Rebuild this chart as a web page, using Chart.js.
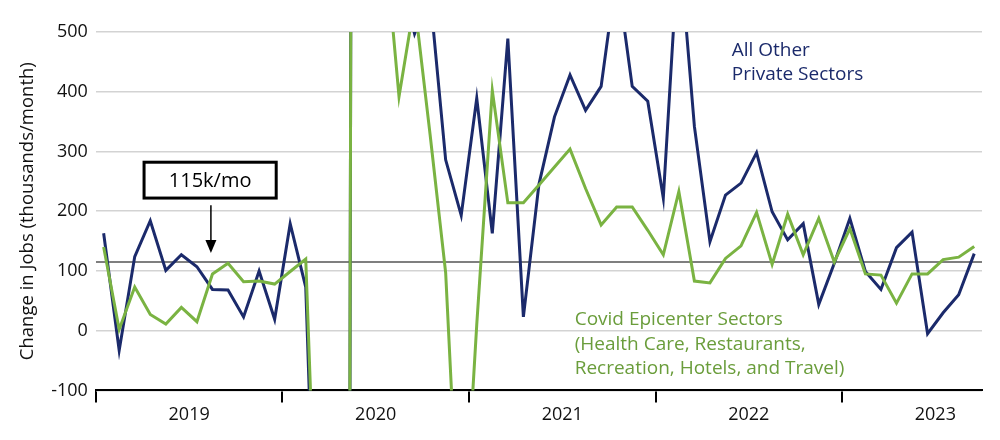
<!DOCTYPE html>
<html>
<head>
<meta charset="utf-8">
<script src="https://cdn.jsdelivr.net/npm/chart.js@4/dist/chart.umd.min.js"></script>
<style>
  html, body { margin: 0; padding: 0; background: #fff; }
  #wrap { width: 1000px; height: 440px; position: relative; }
</style>
</head>
<body>
<div id="wrap"><canvas id="jobsChart"></canvas></div>
<script>
/* Monthly job change, Jan 2019 - Sep 2023 (thousands) */
const years = ['2019', '2020', '2021', '2022', '2023'];
const monthsShown = 57;

const otherPrivate = [
  163, -33, 124, 184, 101, 127, 107, 69, 68, 23, 100, 19,
  179, 73, -700, -10500, 1800, 2200, 900, 600, 497, 562, 286, 193,
  389, 163, 489, 23, 245, 358, 428, 369, 409, 600, 409, 384,
  222, 655, 342, 149, 227, 247, 298, 199, 152, 179, 44, 113,
  188, 99, 69, 139, 165, -5, 30, 60, 129
];

const covidEpicenter = [
  140, 2, 73, 27, 11, 39, 15, 95, 113, 82, 83, 78,
  99, 120, -600, -9000, 1600, 2300, 680, 392, 550, 328, 97, -430,
  10, 402, 214, 214, 244, 274, 304, 238, 177, 207, 207, 168,
  127, 233, 83, 80, 121, 142, 198, 111, 195, 127, 188, 115,
  171, 95, 93, 46, 95, 95, 119, 123, 141
];

const preCovidAvg = 115;
const yTicks = [-100, 0, 100, 200, 300, 400, 500];

const NAVY = '#1b2a6b';
const GREEN = '#7ab342';
const GREEN_TEXT = '#6a9d3b';
const FONT = '"Open Sans", "Noto Sans", sans-serif';

function toPoints(arr) {
    return arr.map((v, i) => ({ x: i + 0.5, y: v }));
}

// year boundaries get tick marks, year middles get labels
const xTickValues = [];
years.forEach((y, i) => { xTickValues.push(i * 12, i * 12 + 6); });

/* text, box and arrow drawn on top of the chart */
const annotations = {
    id: 'annotations',
    afterDraw(chart) {
        const ctx = chart.ctx;
        const xs = chart.scales.x, ys = chart.scales.y;
        ctx.save();

        // 115k/mo box
        const bx0 = xs.getPixelForValue(3.1), bx1 = xs.getPixelForValue(11.6);
        const by0 = ys.getPixelForValue(282), by1 = ys.getPixelForValue(222);
        ctx.lineWidth = 3;
        ctx.strokeStyle = '#000';
        ctx.fillStyle = '#fff';
        ctx.fillRect(bx0, by0, bx1 - bx0, by1 - by0);
        ctx.strokeRect(bx0, by0, bx1 - bx0, by1 - by0);
        ctx.fillStyle = '#000';
        ctx.font = '20px ' + FONT;
        ctx.textAlign = 'center';
        ctx.textBaseline = 'alphabetic';
        ctx.fillText('115k/mo', (bx0 + bx1) / 2, by0 + 25);

        // arrow down to the average line
        const ax = xs.getPixelForValue(7.4);
        const ay0 = ys.getPixelForValue(210), ay1 = ys.getPixelForValue(130);
        ctx.lineWidth = 1.5;
        ctx.beginPath();
        ctx.moveTo(ax, ay0);
        ctx.lineTo(ax, ay1 - 10);
        ctx.stroke();
        ctx.beginPath();
        ctx.moveTo(ax - 5.5, ay1 - 13);
        ctx.lineTo(ax + 5.5, ay1 - 13);
        ctx.lineTo(ax, ay1);
        ctx.closePath();
        ctx.fill();

        // series labels
        ctx.textAlign = 'left';
        ctx.font = '19px ' + FONT;
        ctx.fillStyle = NAVY;
        const nx = xs.getPixelForValue(40.9);
        ctx.fillText('All Other', nx, ys.getPixelForValue(460));
        ctx.fillText('Private Sectors', nx, ys.getPixelForValue(419));

        ctx.fillStyle = GREEN_TEXT;
        const gx = xs.getPixelForValue(30.8);
        ctx.fillText('Covid Epicenter Sectors', gx, ys.getPixelForValue(9));
        ctx.fillText('(Health Care, Restaurants,', gx, ys.getPixelForValue(-32));
        ctx.fillText('Recreation, Hotels, and Travel)', gx, ys.getPixelForValue(-73));

        ctx.restore();
    }
};

new Chart(document.getElementById('jobsChart'), {
    type: 'line',
    data: {
        datasets: [
            {
                label: 'Covid Epicenter Sectors',
                data: toPoints(covidEpicenter),
                borderColor: GREEN,
                borderWidth: 3,
                pointRadius: 0,
                tension: 0,
                clip: 0,
                order: 1
            },
            {
                label: 'All Other Private Sectors',
                data: toPoints(otherPrivate),
                borderColor: NAVY,
                borderWidth: 3,
                pointRadius: 0,
                tension: 0,
                clip: 0,
                order: 2
            },
            {
                label: '115k/mo',
                data: [{ x: 0, y: preCovidAvg }, { x: monthsShown, y: preCovidAvg }],
                borderColor: '#555',
                borderWidth: 1.5,
                pointRadius: 0,
                clip: 0,
                order: 3
            }
        ]
    },
    options: {
        responsive: true,
        maintainAspectRatio: false,
        animation: false,
        events: [],
        layout: { padding: { left: 17, right: 18, top: 32, bottom: 12 } },
        plugins: {
            legend: { display: false },
            tooltip: { enabled: false }
        },
        scales: {
            x: {
                type: 'linear',
                min: 0,
                max: monthsShown,
                afterBuildTicks: axis => {
                    axis.ticks = xTickValues.map(v => ({ value: v }));
                },
                ticks: {
                    autoSkip: false,
                    maxRotation: 0,
                    padding: 2,
                    color: '#111',
                    font: { family: FONT, size: 18 },
                    callback: v => (v % 12 === 6 ? years[(v - 6) / 12] : '')
                },
                grid: {
                    drawOnChartArea: false,
                    tickLength: 12,
                    lineWidth: 2,
                    color: ctx => (ctx.tick && ctx.tick.value % 12 === 0 ? '#000' : 'rgba(0,0,0,0)')
                },
                border: { color: '#000', width: 2 }
            },
            y: {
                min: -100,
                max: 500,
                afterBuildTicks: axis => {
                    axis.ticks = yTicks.map(v => ({ value: v }));
                },
                ticks: {
                    padding: 8,
                    color: '#111',
                    font: { family: FONT, size: 18 }
                },
                grid: {
                    color: '#d3d3d3',
                    lineWidth: 1.5,
                    drawTicks: false
                },
                border: { display: false },
                title: {
                    display: true,
                    text: 'Change in Jobs (thousands/month)',
                    color: '#111',
                    font: { family: FONT, size: 18.5 },
                    padding: { top: 0, bottom: 4 }
                }
            }
        }
    },
    plugins: [annotations]
});
</script>
</body>
</html>
